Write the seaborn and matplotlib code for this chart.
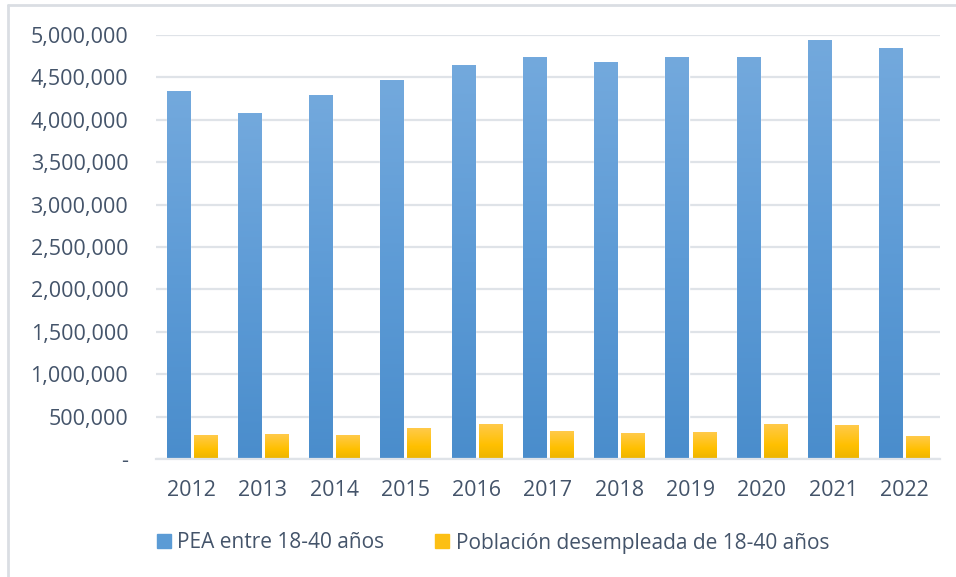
import numpy as np
import pandas as pd
import seaborn as sns
import matplotlib.pyplot as plt
from matplotlib.lines import Line2D
from matplotlib.ticker import FuncFormatter
from matplotlib.colors import LinearSegmentedColormap

# datos
years = ['2012', '2013', '2014', '2015', '2016', '2017', '2018', '2019', '2020', '2021', '2022']
pea = [4330000, 4080000, 4290000, 4460000, 4635000, 4740000, 4680000, 4740000, 4730000, 4930000, 4835000]
desempleo = [280000, 290000, 280000, 362000, 408000, 327000, 303000, 315000, 408000, 397000, 268000]
series = ['PEA entre 18-40 años', 'Población desempleada de 18-40 años']
colores = ['#5b9bd5', '#ffc000']

df = pd.DataFrame({
    'year': years * 2,
    'valor': pea + desempleo,
    'serie': [series[0]] * len(years) + [series[1]] * len(years),
})

txt = '#44546a'
grid = '#dfe3e8'

sns.set_theme(style='white')
plt.rcParams['font.family'] = ['Open Sans', 'DejaVu Sans']

fig = plt.figure(figsize=(9.56, 5.77), dpi=100)
ax = fig.add_axes([156 / 956, 1 - 459 / 577, 784 / 956, 424 / 577])

sns.barplot(data=df, x='year', y='valor', hue='serie', palette=colores,
            width=0.76, gap=0.15, saturation=1, ax=ax)

# degradado tipo Excel en cada barra
cmaps = [LinearSegmentedColormap.from_list('azul', ['#4a8dcc', '#5d9bd6', '#73a9dd']),
         LinearSegmentedColormap.from_list('amarillo', [(0, '#ecb400'), (0.4, '#ffc000'), (1, '#ffca4a')])]
grad = np.linspace(0, 1, 200).reshape(-1, 1)
for i, bar in enumerate(ax.patches[:2 * len(years)]):
    x0, y0 = bar.get_x(), bar.get_y()
    w, h = bar.get_width(), bar.get_height()
    ax.imshow(grad, cmap=cmaps[i // len(years)], extent=[x0, x0 + w, y0, y0 + h],
              aspect='auto', origin='lower', zorder=bar.get_zorder() + 0.1)

ax.set_xlim(-0.5, len(years) - 0.5)
ax.set_ylim(0, 5000000)
ax.set_yticks(range(0, 5000001, 500000))
ax.yaxis.set_major_formatter(FuncFormatter(lambda v, p: '-' if v == 0 else f'{v:,.0f}'))
ax.grid(axis='y', color=grid, linewidth=1.6)
ax.set_axisbelow(True)
for s in ['top', 'right', 'left']:
    ax.spines[s].set_visible(False)
ax.spines['bottom'].set_color(grid)
ax.spines['bottom'].set_linewidth(1.6)
ax.tick_params(axis='y', length=0, pad=20, labelsize=15.5, labelcolor=txt)
ax.tick_params(axis='x', length=0, pad=15, labelsize=15.5, labelcolor=txt)
ax.set_xlabel('')
ax.set_ylabel('')

# leyenda abajo
handles, labels = ax.get_legend_handles_labels()
ax.get_legend().remove()
handles = [plt.Rectangle((0, 0), 1, 1, color=c) for c in ['#5b9bd5', '#fcbf14']]
fig.legend(handles, labels, loc='center', bbox_to_anchor=(493 / 956, 1 - 543 / 577),
           ncol=2, frameon=False, fontsize=15, labelcolor=txt,
           handlelength=0.67, handleheight=0.67, handletextpad=0.3, columnspacing=2.45)

# borde del area del grafico
fig.add_artist(Line2D([8 / 956, 1], [1 - 5 / 577, 1 - 5 / 577], color='#dadee3', linewidth=2))
fig.add_artist(Line2D([8 / 956, 8 / 956], [0, 1 - 5 / 577], color='#dadee3', linewidth=2))

plt.savefig('out.png', dpi=100)
